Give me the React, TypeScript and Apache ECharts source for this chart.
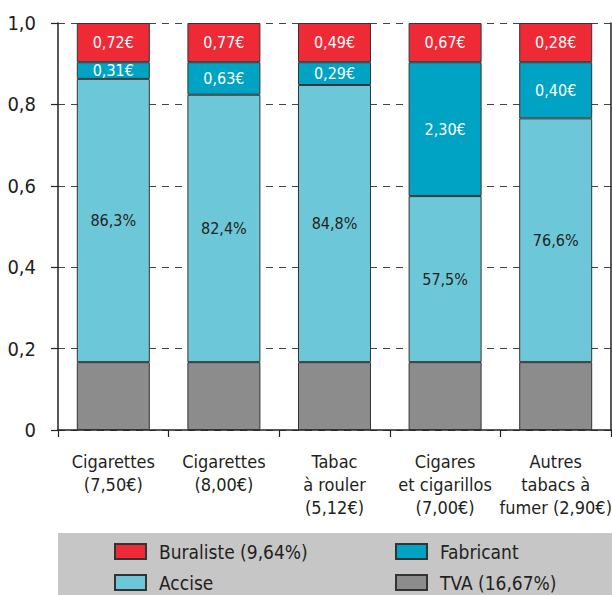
import React, { useEffect, useRef } from "react";
import * as echarts from "echarts";

const categories = [
  "Cigarettes\n(7,50€)",
  "Cigarettes\n(8,00€)",
  "Tabac\nà rouler\n(5,12€)",
  "Cigares\net cigarillos\n(7,00€)",
  "Autres\ntabacs à\nfumer (2,90€)",
];
const tva = [0.1667, 0.1667, 0.1667, 0.1667, 0.1667];
const accise = [0.696, 0.657, 0.681, 0.408, 0.599];
const fabricant = [0.041, 0.08, 0.056, 0.329, 0.138];
const buraliste = [0.0963, 0.0963, 0.0963, 0.0963, 0.0963];
const accisePct = ["86,3%", "82,4%", "84,8%", "57,5%", "76,6%"];
const fabricantEur = ["0,31€", "0,63€", "0,29€", "2,30€", "0,40€"];
const buralisteEur = ["0,72€", "0,77€", "0,49€", "0,67€", "0,28€"];
const yTicks = [0, 0.2, 0.4, 0.6, 0.8, 1.0];
const legendNames = ["Buraliste (9,64%)", "Accise", "Fabricant", "TVA (16,67%)"];

const FONT = "'Liberation Sans Narrow', 'DejaVu Sans Condensed', 'Roboto', sans-serif";
const TXT = "#231f20";
const BORDER = "#333333";

export default function App() {
  const ref = useRef<HTMLDivElement>(null);
  useEffect(() => {
    if (!ref.current) return;
    const chart = echarts.init(ref.current, undefined, { renderer: "svg" });
    const barBase = {
      type: "bar",
      stack: "total",
      barWidth: "66%",
      itemStyle: { borderColor: BORDER, borderWidth: 1 },
    };
    const legendPos = [
      [114, 542],
      [114, 573],
      [395, 542],
      [395, 573],
    ];
    chart.setOption({
      animation: false,
      textStyle: { fontFamily: FONT },
      grid: {
        left: 58,
        right: 1,
        top: 23,
        bottom: 165,
        containLabel: false,
        outerBoundsMode: "none",
      },
      graphic: [
        {
          type: "rect",
          shape: { x: 58, y: 533, width: 554, height: 62 },
          style: { fill: "#c6c6c6" },
          z: -10,
          silent: true,
        },
      ],
      legend: legendNames.map((n, i) => ({
        data: [n],
        left: legendPos[i][0],
        top: legendPos[i][1],
        icon: "rect",
        itemWidth: 31,
        itemHeight: 15,
        padding: 0,
        selectedMode: false,
        textStyle: {
          fontFamily: FONT,
          fontSize: 19,
          lineHeight: 15,
          color: TXT,
          padding: [0, 0, 0, 8],
        },
      })),
      xAxis: {
        type: "category",
        data: categories,
        boundaryGap: true,
        axisLine: { show: true, lineStyle: { color: "#222", width: 1.5 } },
        axisTick: { show: true, length: 7, lineStyle: { color: "#222", width: 1.2 } },
        axisLabel: {
          interval: 0,
          margin: 20,
          fontFamily: FONT,
          fontSize: 18,
          lineHeight: 23,
          color: TXT,
        },
      },
      yAxis: [
        {
          type: "value",
          min: 0,
          max: 1,
          interval: 0.2,
          axisLine: { show: true, lineStyle: { color: "#222", width: 1.5 } },
          axisTick: { show: true, length: 7, lineStyle: { color: "#222", width: 1.2 } },
          axisLabel: {
            margin: 22,
            fontFamily: FONT,
            fontSize: 20,
            color: TXT,
            formatter: (v: number) => {
              const t = yTicks.find((x) => Math.abs(x - v) < 1e-6);
              if (t === undefined) return "";
              return t === 0 ? "0" : t.toFixed(1).replace(".", ",");
            },
          },
          splitLine: {
            show: true,
            lineStyle: { color: "#444", width: 1.2, type: [7, 6] },
          },
        },
        {
          type: "value",
          min: 0,
          max: 1,
          interval: 0.2,
          position: "right",
          axisLine: { show: true, lineStyle: { color: "#222", width: 1.5 } },
          axisTick: { show: false },
          axisLabel: { show: false },
          splitLine: { show: false },
        },
      ],
      series: [
        {
          ...barBase,
          name: "TVA (16,67%)",
          data: tva,
          itemStyle: { ...barBase.itemStyle, color: "#8c8c8c" },
        },
        {
          ...barBase,
          name: "Accise",
          data: accise,
          itemStyle: { ...barBase.itemStyle, color: "#6cc8d9" },
          label: {
            show: true,
            position: "inside",
            fontFamily: FONT,
            fontSize: 16,
            color: TXT,
            formatter: (p: any) => accisePct[p.dataIndex],
          },
        },
        {
          ...barBase,
          name: "Fabricant",
          data: fabricant,
          itemStyle: { ...barBase.itemStyle, color: "#00a3c4" },
          label: {
            show: true,
            position: "inside",
            fontFamily: FONT,
            fontSize: 16,
            color: "#ffffff",
            formatter: (p: any) => fabricantEur[p.dataIndex],
          },
        },
        {
          ...barBase,
          name: "Buraliste (9,64%)",
          data: buraliste,
          itemStyle: { ...barBase.itemStyle, color: "#ee2a36" },
          label: {
            show: true,
            position: "inside",
            fontFamily: FONT,
            fontSize: 16,
            color: "#ffffff",
            formatter: (p: any) => buralisteEur[p.dataIndex],
          },
        },
      ],
    });
    return () => chart.dispose();
  }, []);
  return (
    <div
      ref={ref}
      style={{ position: "absolute", left: 0, top: 0, width: 612, height: 595 }}
    />
  );
}
